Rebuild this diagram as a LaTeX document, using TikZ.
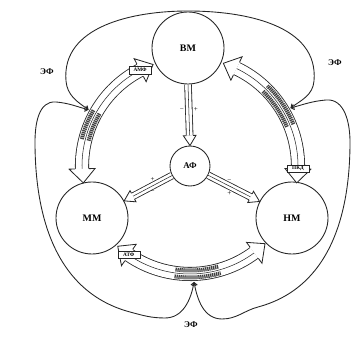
\documentclass[tikz,border=0pt]{standalone}
\usepackage{fontspec}
\setmainfont{Liberation Serif}
\usepackage{tikz}
\usetikzlibrary{arrows.meta,calc,positioning}

\tikzset{
  organ/.style={circle, draw=black!85, fill=white, line width=0.75pt, minimum size=2.16cm, inner sep=0pt, font=\fontsize{8.5}{9}\selectfont\bfseries},
  hub/.style={organ, minimum size=1.2cm, font=\fontsize{7.5}{8}\selectfont\bfseries},
  band/.style={draw=black!85, line width=0.7pt, double=white, double distance=10.6pt},
  spoke/.style={draw=black!85, line width=0.7pt, double=white, double distance=5pt},
  lane/.style={draw=black!85, line width=0.45pt},
  head/.style={draw=black!85, fill=white, line width=0.7pt},
  hatch/.style={line width=3.4pt, black!75, dash pattern=on 1.1pt off 0.6pt},
  tag/.style={draw=black!85, fill=white, line width=0.45pt, inner sep=0.5pt, minimum width=0.66cm, minimum height=0.22cm, font=\fontsize{4.5}{5}\selectfont\bfseries},
  sign/.style={inner sep=1pt, font=\fontsize{6}{6}\selectfont},
  effect/.style={font=\fontsize{7.5}{8}\selectfont\bfseries},
  eloop/.style={draw=black!85, line width=0.75pt, {Straight Barb[length=2.5pt,width=4.5pt]}-{Straight Barb[length=2.5pt,width=4.5pt]}}
}

\begin{document}
\begin{tikzpicture}[x=0.03cm, y=0.03cm]
  \useasboundingbox (0,0) rectangle (364,347);

  % cells
  \node[organ] (vm) at (188,299) {ВМ};
  \node[hub] (af) at (190,181) {АФ};
  \node[organ] (mm) at (92,129) {ММ};
  \node[organ] (nm) at (292,129) {НМ};

  % where the outer loops meet the bands
  \coordinate (jl) at ($(af)+(151:116)$);
  \coordinate (jr) at ($(af)+(30:116)$);
  \coordinate (jb) at ($(af)+(272:116)$);

  % outer loops
  \draw[eloop] (jl) to[out=145,in=-85] (66,266) to[out=95,in=180] (188,336) to[out=0,in=85] (314,266) to[out=-95,in=35] (jr);
  \draw[eloop] (jl) to[out=165,in=-5] (56,245) to[out=175,in=90] (35,205) to[out=-90,in=165] (130,35) to[out=-15,in=180] (165,29) to[out=0,in=-100] (jb);
  \draw[eloop] (jr) to[out=15,in=185] (326,247) to[out=5,in=90] (350,205) to[out=-90,in=15] (258,40) to[out=195,in=0] (222,28) to[out=180,in=-80] (jb);

  \node[effect] (ef1) at (47,275) {ЭФ};
  \node[effect] (ef2) at (335,284) {ЭФ};
  \node[effect] (ef3) at (191,22) {ЭФ};

  % band vm -- mm
  \coordinate (lt1) at ($(af)+(110:108)$);
  \coordinate (lb1) at ($(af)+(117.5:108)$);
  \coordinate (lt2) at ($(af)+(189:108)$);
  \coordinate (lb2) at ($(af)+(181.5:108)$);
  \draw[band] (lb1) arc[start angle=117.5, end angle=181.5, radius=108];
  \draw[lane] (lb1) arc[start angle=117.5, end angle=181.5, radius=108];
  \draw[hatch] ($(af)+(150:104.5)$) arc[start angle=150, end angle=166, radius=104.5];
  \draw[hatch] ($(af)+(150:111.5)$) arc[start angle=150, end angle=166, radius=111.5];
  \filldraw[head] ($(af)+(117.5:115)$) -- ($(af)+(117.5:121)$) -- (lt1) -- ($(af)+(117.5:95)$) -- ($(af)+(117.5:101)$);
  \filldraw[head] ($(af)+(181.5:115)$) -- ($(af)+(181.5:121)$) -- (lt2) -- ($(af)+(181.5:95)$) -- ($(af)+(181.5:101)$);
  \node[tag] (amf) at (lb1) {АМФ};

  % band vm -- nm
  \coordinate (rt1) at ($(af)+(72:108)$);
  \coordinate (rb1) at ($(af)+(64.5:108)$);
  \coordinate (rt2) at ($(af)+(-9:108)$);
  \coordinate (rb2) at ($(af)+(-1.5:108)$);
  \draw[band] (rb2) arc[start angle=-1.5, end angle=64.5, radius=108];
  \draw[lane] (rb2) arc[start angle=-1.5, end angle=64.5, radius=108];
  \draw[hatch] ($(af)+(22:104.5)$) arc[start angle=22, end angle=46, radius=104.5];
  \draw[hatch] ($(af)+(22:111.5)$) arc[start angle=22, end angle=46, radius=111.5];
  \filldraw[head] ($(af)+(64.5:115)$) -- ($(af)+(64.5:121)$) -- (rt1) -- ($(af)+(64.5:95)$) -- ($(af)+(64.5:101)$);
  \filldraw[head] ($(af)+(-1.5:115)$) -- ($(af)+(-1.5:121)$) -- (rt2) -- ($(af)+(-1.5:95)$) -- ($(af)+(-1.5:101)$);
  \node[tag] (pkd) at (rb2) {ПКД};

  % band mm -- nm
  \coordinate (bt1) at ($(af)+(228:108)$);
  \coordinate (bb1) at ($(af)+(235.5:108)$);
  \coordinate (bt2) at ($(af)+(314:108)$);
  \coordinate (bb2) at ($(af)+(306.5:108)$);
  \draw[band] (bb1) arc[start angle=235.5, end angle=306.5, radius=108];
  \draw[lane] (bb1) arc[start angle=235.5, end angle=306.5, radius=108];
  \draw[hatch] ($(af)+(262:104.5)$) arc[start angle=262, end angle=286, radius=104.5];
  \draw[hatch] ($(af)+(262:111.5)$) arc[start angle=262, end angle=286, radius=111.5];
  \filldraw[head] ($(af)+(235.5:115)$) -- ($(af)+(235.5:121)$) -- (bt1) -- ($(af)+(235.5:95)$) -- ($(af)+(235.5:101)$);
  \filldraw[head] ($(af)+(306.5:115)$) -- ($(af)+(306.5:121)$) -- (bt2) -- ($(af)+(306.5:95)$) -- ($(af)+(306.5:101)$);
  \node[tag] (atf) at (bb1) {АТФ};

  % spokes
  \coordinate (st1) at (af.north);
  \coordinate (sb1) at ($(af.north)!0.3cm!(vm.south)$);
  \draw[spoke] (vm.south) -- (sb1) node[sign, midway, left=3pt] {−} node[sign, midway, right=3pt] {+};
  \draw[lane] (vm.south) -- (sb1);
  \filldraw[head] ($(sb1)!0.1cm!90:(st1)$) -- ($(sb1)!0.19cm!90:(st1)$) -- (st1) -- ($(sb1)!0.19cm!-90:(st1)$) -- ($(sb1)!0.1cm!-90:(st1)$);

  \coordinate (st2) at (mm.28);
  \coordinate (sb2) at ($(mm.28)!0.3cm!(af.208)$);
  \draw[spoke] (af.208) -- (sb2) node[sign, midway, above=2pt] {+} node[sign, midway, below=3pt] {−};
  \draw[lane] (af.208) -- (sb2);
  \filldraw[head] ($(sb2)!0.1cm!90:(st2)$) -- ($(sb2)!0.19cm!90:(st2)$) -- (st2) -- ($(sb2)!0.19cm!-90:(st2)$) -- ($(sb2)!0.1cm!-90:(st2)$);

  \coordinate (st3) at (nm.153);
  \coordinate (sb3) at ($(nm.153)!0.3cm!(af.-27)$);
  \draw[spoke] (af.-27) -- (sb3) node[sign, midway, above=2pt] {−} node[sign, midway, below=3pt] {+};
  \draw[lane] (af.-27) -- (sb3);
  \filldraw[head] ($(sb3)!0.1cm!90:(st3)$) -- ($(sb3)!0.19cm!90:(st3)$) -- (st3) -- ($(sb3)!0.19cm!-90:(st3)$) -- ($(sb3)!0.1cm!-90:(st3)$);
\end{tikzpicture}
\end{document}
